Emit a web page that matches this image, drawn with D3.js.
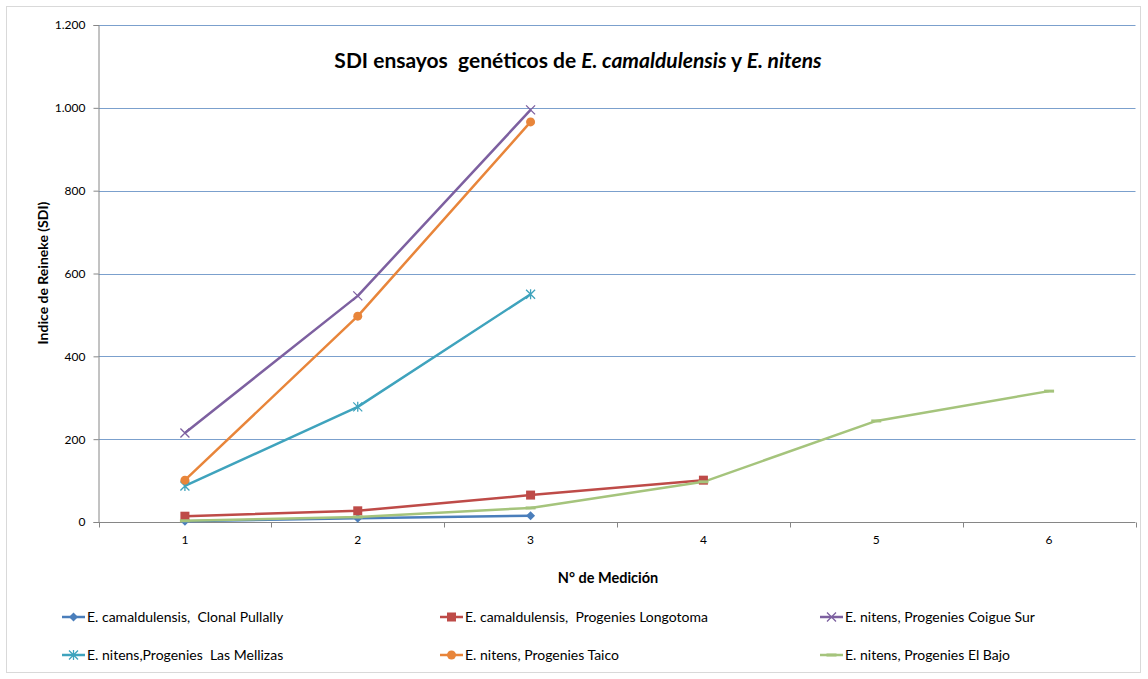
<!DOCTYPE html>
<html><head><meta charset="utf-8">
<script src="https://cdn.jsdelivr.net/npm/d3@7"></script>
<style>body{margin:0;background:#fff;} text{font-family:Lato,"Open Sans",sans-serif;white-space:pre;}</style>
</head><body>
<svg id="c" width="1148" height="679"></svg>
<script>
const categories = [1, 2, 3, 4, 5, 6];
const yTicks = [0, 200, 400, 600, 800, 1000, 1200];
const yTickLabels = ["0", "200", "400", "600", "800", "1.000", "1.200"];
const pullally = [2, 9, 15];
const longotoma = [14, 27, 65, 101];
const coigueSur = [215, 546, 995];
const lasMellizas = [87, 278, 550];
const taico = [101, 497, 966];
const elBajo = [3, 12, 34, 97, 244, 316];
const seriesNames = ["E. camaldulensis,  Clonal Pullally", "E. camaldulensis,  Progenies Longotoma", "E. nitens, Progenies Coigue Sur",
  "E. nitens,Progenies  Las Mellizas", "E. nitens, Progenies Taico", "E. nitens, Progenies El Bajo"];

const series = [
  {name: seriesNames[0], values: pullally, color: "#4A7EBB", marker: "diamond"},
  {name: seriesNames[1], values: longotoma, color: "#BE4B48", marker: "square"},
  {name: seriesNames[2], values: coigueSur, color: "#7D60A0", marker: "x"},
  {name: seriesNames[3], values: lasMellizas, color: "#3FA3BD", marker: "star"},
  {name: seriesNames[4], values: taico, color: "#E8853A", marker: "circle"},
  {name: seriesNames[5], values: elBajo, color: "#A5C47C", marker: "dash"}
];

const svg = d3.select("#c");
svg.append("rect").attr("x", 6.5).attr("y", 6.5).attr("width", 1134).attr("height", 666)
  .attr("fill", "none").attr("stroke", "#d9d9d9");

const L = 98.5, R = 1135.5, T = 25, B = 522;
const x = d3.scaleBand().domain(categories).range([L, R]);
const y = d3.scaleLinear().domain([0, 1200]).range([B, T]);

svg.append("g").selectAll("line").data(yTicks.filter(d => d > 0)).join("line")
  .attr("x1", L).attr("x2", R).attr("y1", d => Math.round(y(d)) + 0.5).attr("y2", d => Math.round(y(d)) + 0.5)
  .attr("stroke", "#7BA0CD").attr("stroke-width", 1);

const yAxis = d3.axisLeft(y).tickValues(yTicks).tickFormat((d, i) => yTickLabels[i]).tickSize(5).tickPadding(8);
const gy = svg.append("g").attr("transform", `translate(${L},0)`).call(yAxis);
gy.select(".domain").attr("stroke", "#868686");
gy.selectAll(".tick line").attr("stroke", "#868686");
gy.selectAll("text").attr("font-size", 12).attr("fill", "#000").style("font-family", "Lato, sans-serif");

const xAxis = d3.axisBottom(x).tickSize(0).tickPadding(13);
const gx = svg.append("g").attr("transform", `translate(0,${Math.round(B) + 0.5})`).call(xAxis);
gx.select(".domain").attr("stroke", "#868686").attr("d", `M${L},0H${R}`);
gx.selectAll("text").attr("font-size", 12).attr("fill", "#000").style("font-family", "Lato, sans-serif");
const bounds = categories.map(c => x(c)).concat([R]);
gx.selectAll(".bt").data(bounds).join("line").attr("class", "bt")
  .attr("x1", d => Math.round(d) + 0.5).attr("x2", d => Math.round(d) + 0.5).attr("y1", 0).attr("y2", 5)
  .attr("stroke", "#868686");

const cx = c => x(c) + x.bandwidth() / 2;

function drawMarker(g, type, px, py, color) {
  if (type === "diamond") {
    g.append("path").attr("d", `M${px},${py-4.5}L${px+4.5},${py}L${px},${py+4.5}L${px-4.5},${py}Z`).attr("fill", color);
  } else if (type === "square") {
    g.append("rect").attr("x", px - 4.5).attr("y", py - 4.5).attr("width", 9).attr("height", 9).attr("fill", color);
  } else if (type === "circle") {
    g.append("circle").attr("cx", px).attr("cy", py).attr("r", 4.5).attr("fill", color);
  } else if (type === "x") {
    g.append("path").attr("d", `M${px-4.5},${py-4.5}L${px+4.5},${py+4.5}M${px-4.5},${py+4.5}L${px+4.5},${py-4.5}`)
      .attr("stroke", color).attr("stroke-width", 1.3);
  } else if (type === "star") {
    g.append("path").attr("d", `M${px-4.5},${py-4.5}L${px+4.5},${py+4.5}M${px-4.5},${py+4.5}L${px+4.5},${py-4.5}M${px},${py-5}L${px},${py+5}`)
      .attr("stroke", color).attr("stroke-width", 1.3);
  } else if (type === "dash") {
    g.append("rect").attr("x", px - 5).attr("y", py - 1.5).attr("width", 10).attr("height", 3).attr("fill", color);
  }
}

const line = d3.line().x((d, i) => cx(categories[i])).y(d => y(d));
const plot = svg.append("g");
series.forEach(s => {
  plot.append("path").datum(s.values).attr("d", line).attr("fill", "none")
    .attr("stroke", s.color).attr("stroke-width", 2.5).attr("stroke-linejoin", "round");
});
series.forEach(s => {
  const g = plot.append("g");
  s.values.forEach((v, i) => drawMarker(g, s.marker, cx(categories[i]), y(v), s.color));
});

const title = svg.append("text").attr("x", 578).attr("y", 68).attr("text-anchor", "middle")
  .attr("font-size", 21).attr("font-weight", "bold").attr("fill", "#000");
title.append("tspan").text("SDI ensayos  genéticos de ");
title.append("tspan").attr("font-style", "italic").text("E. camaldulensis");
title.append("tspan").text(" y ");
title.append("tspan").attr("font-style", "italic").text("E. nitens");

svg.append("text").attr("x", 608).attr("y", 583).attr("text-anchor", "middle")
  .attr("font-size", 14.5).attr("font-weight", "bold").text("N° de Medición");
svg.append("text").attr("transform", "translate(48,273) rotate(-90)").attr("text-anchor", "middle")
  .attr("font-size", 14).attr("font-weight", "bold").text("Indice de Reineke (SDI)");

const legX = [62, 440, 820], legY = [617, 655];
series.forEach((s, i) => {
  const lx = legX[i % 3], ly = legY[Math.floor(i / 3)];
  const g = svg.append("g");
  g.append("line").attr("x1", lx).attr("x2", lx + 23).attr("y1", ly).attr("y2", ly).attr("stroke", s.color).attr("stroke-width", 2.5);
  drawMarker(g, s.marker, lx + 11.5, ly, s.color);
  g.append("text").attr("x", lx + 25).attr("y", ly + 5).attr("font-size", 14).attr("fill", "#000").text(s.name);
});
</script>
</body></html>
